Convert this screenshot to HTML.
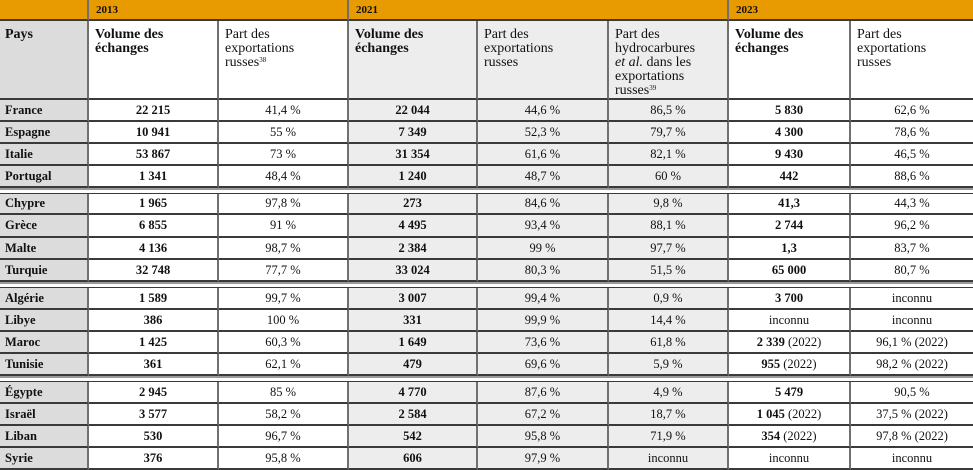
<!DOCTYPE html>
<html><head><meta charset="utf-8"><style>
*{margin:0;padding:0;box-sizing:border-box}
body{width:973px;height:470px;overflow:hidden;background:#fff;font-family:"Liberation Serif",serif;font-size:12.5px;color:#111}
.r{position:absolute;left:0;width:973px;display:flex}
.c{height:100%;border-right:2px solid #707070;border-bottom:2px solid #3a3a3a;display:flex;align-items:center;justify-content:center;white-space:nowrap}
.c:last-child{border-right:none}
.p{justify-content:flex-start;padding-left:5px;font-weight:bold;background:#dcdcdc}
.g{background:#ededed}
.b{font-weight:bold}
.c.h{display:block;padding:7px 0 0 6px;white-space:normal;line-height:14px;font-size:14px;font-family:"Liberation Serif",serif}
sup{font-size:7px;vertical-align:4px;line-height:0}
.w0{width:89px}.w1{width:130px}.w2{width:130px}.w3{width:129px}.w4{width:131px}.w5{width:120px}.w6{width:122px}.w7{width:122px}
.top{position:absolute;top:0;height:21px;background:#e89b00;font-weight:bold;font-size:11px;padding:4px 0 0 7px;border-right:2px solid #707070;border-bottom:2px solid #3a3a3a}
.sep{position:absolute;left:0;width:973px;height:5px;border-top:2px solid #9a9a9a;background:#fff}
</style></head><body>
<div class="top" style="left:0;width:89px"></div>
<div class="top" style="left:89px;width:260px">2013</div>
<div class="top" style="left:349px;width:380px">2021</div>
<div class="top" style="left:729px;width:244px;border-right:none">2023</div>

<div class="r" style="top:21px;height:79px">
<div class="c w0 p h" style="padding-left:5px">Pays</div>
<div class="c w1 h b">Volume des<br>échanges</div>
<div class="c w2 h">Part des<br>exportations<br>russes<sup>38</sup></div>
<div class="c w3 h b g">Volume des<br>échanges</div>
<div class="c w4 h g">Part des<br>exportations<br>russes</div>
<div class="c w5 h g">Part des<br>hydrocarbures<br><i>et al.</i> dans les<br>exportations<br>russes<sup>39</sup></div>
<div class="c w6 h b">Volume des<br>échanges</div>
<div class="c w7 h">Part des<br>exportations<br>russes</div>
</div>

<div class="r" style="top:100px;height:22px"><div class="c w0 p">France</div><div class="c w1 b">22 215</div><div class="c w2">41,4 %</div><div class="c w3 b g">22 044</div><div class="c w4 g">44,6 %</div><div class="c w5 g">86,5 %</div><div class="c w6 b">5 830</div><div class="c w7">62,6 %</div></div>
<div class="r" style="top:122px;height:22px"><div class="c w0 p">Espagne</div><div class="c w1 b">10 941</div><div class="c w2">55 %</div><div class="c w3 b g">7 349</div><div class="c w4 g">52,3 %</div><div class="c w5 g">79,7 %</div><div class="c w6 b">4 300</div><div class="c w7">78,6 %</div></div>
<div class="r" style="top:144px;height:22px"><div class="c w0 p">Italie</div><div class="c w1 b">53 867</div><div class="c w2">73 %</div><div class="c w3 b g">31 354</div><div class="c w4 g">61,6 %</div><div class="c w5 g">82,1 %</div><div class="c w6 b">9 430</div><div class="c w7">46,5 %</div></div>
<div class="r" style="top:166px;height:22px"><div class="c w0 p">Portugal</div><div class="c w1 b">1 341</div><div class="c w2">48,4 %</div><div class="c w3 b g">1 240</div><div class="c w4 g">48,7 %</div><div class="c w5 g">60 %</div><div class="c w6 b">442</div><div class="c w7">88,6 %</div></div>
<div class="sep" style="top:188px"></div>
<div class="r" style="top:193px;height:22px;border-top:1px solid #3a3a3a"><div class="c w0 p">Chypre</div><div class="c w1 b">1 965</div><div class="c w2">97,8 %</div><div class="c w3 b g">273</div><div class="c w4 g">84,6 %</div><div class="c w5 g">9,8 %</div><div class="c w6 b">41,3</div><div class="c w7">44,3 %</div></div>
<div class="r" style="top:215px;height:23px"><div class="c w0 p">Grèce</div><div class="c w1 b">6 855</div><div class="c w2">91 %</div><div class="c w3 b g">4 495</div><div class="c w4 g">93,4 %</div><div class="c w5 g">88,1 %</div><div class="c w6 b">2 744</div><div class="c w7">96,2 %</div></div>
<div class="r" style="top:238px;height:22px"><div class="c w0 p">Malte</div><div class="c w1 b">4 136</div><div class="c w2">98,7 %</div><div class="c w3 b g">2 384</div><div class="c w4 g">99 %</div><div class="c w5 g">97,7 %</div><div class="c w6 b">1,3</div><div class="c w7">83,7 %</div></div>
<div class="r" style="top:260px;height:22px"><div class="c w0 p">Turquie</div><div class="c w1 b">32 748</div><div class="c w2">77,7 %</div><div class="c w3 b g">33 024</div><div class="c w4 g">80,3 %</div><div class="c w5 g">51,5 %</div><div class="c w6 b">65 000</div><div class="c w7">80,7 %</div></div>
<div class="sep" style="top:282px"></div>
<div class="r" style="top:287px;height:23px;border-top:1px solid #3a3a3a"><div class="c w0 p">Algérie</div><div class="c w1 b">1 589</div><div class="c w2">99,7 %</div><div class="c w3 b g">3 007</div><div class="c w4 g">99,4 %</div><div class="c w5 g">0,9 %</div><div class="c w6 b">3 700</div><div class="c w7">inconnu</div></div>
<div class="r" style="top:310px;height:22px"><div class="c w0 p">Libye</div><div class="c w1 b">386</div><div class="c w2">100 %</div><div class="c w3 b g">331</div><div class="c w4 g">99,9 %</div><div class="c w5 g">14,4 %</div><div class="c w6">inconnu</div><div class="c w7">inconnu</div></div>
<div class="r" style="top:332px;height:22px"><div class="c w0 p">Maroc</div><div class="c w1 b">1 425</div><div class="c w2">60,3 %</div><div class="c w3 b g">1 649</div><div class="c w4 g">73,6 %</div><div class="c w5 g">61,8 %</div><div class="c w6"><b>2 339</b>&nbsp;(2022)</div><div class="c w7">96,1 % (2022)</div></div>
<div class="r" style="top:354px;height:22px"><div class="c w0 p">Tunisie</div><div class="c w1 b">361</div><div class="c w2">62,1 %</div><div class="c w3 b g">479</div><div class="c w4 g">69,6 %</div><div class="c w5 g">5,9 %</div><div class="c w6"><b>955</b>&nbsp;(2022)</div><div class="c w7">98,2 % (2022)</div></div>
<div class="sep" style="top:376px"></div>
<div class="r" style="top:381px;height:23px;border-top:1px solid #3a3a3a"><div class="c w0 p">Égypte</div><div class="c w1 b">2 945</div><div class="c w2">85 %</div><div class="c w3 b g">4 770</div><div class="c w4 g">87,6 %</div><div class="c w5 g">4,9 %</div><div class="c w6 b">5 479</div><div class="c w7">90,5 %</div></div>
<div class="r" style="top:404px;height:22px"><div class="c w0 p">Israël</div><div class="c w1 b">3 577</div><div class="c w2">58,2 %</div><div class="c w3 b g">2 584</div><div class="c w4 g">67,2 %</div><div class="c w5 g">18,7 %</div><div class="c w6"><b>1 045</b>&nbsp;(2022)</div><div class="c w7">37,5 % (2022)</div></div>
<div class="r" style="top:426px;height:22px"><div class="c w0 p">Liban</div><div class="c w1 b">530</div><div class="c w2">96,7 %</div><div class="c w3 b g">542</div><div class="c w4 g">95,8 %</div><div class="c w5 g">71,9 %</div><div class="c w6"><b>354</b>&nbsp;(2022)</div><div class="c w7">97,8 % (2022)</div></div>
<div class="r" style="top:448px;height:22px"><div class="c w0 p">Syrie</div><div class="c w1 b">376</div><div class="c w2">95,8 %</div><div class="c w3 b g">606</div><div class="c w4 g">97,9 %</div><div class="c w5 g">inconnu</div><div class="c w6">inconnu</div><div class="c w7">inconnu</div></div>
</body></html>
